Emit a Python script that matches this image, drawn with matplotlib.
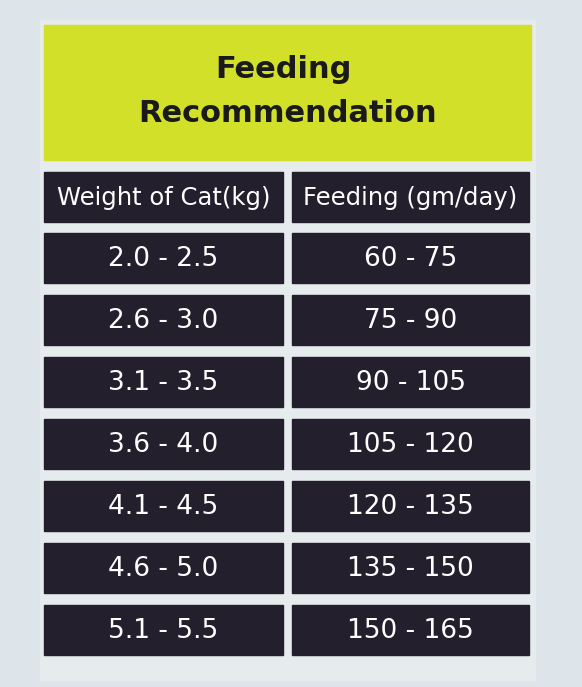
import matplotlib
matplotlib.use("Agg")
import matplotlib.pyplot as plt
from matplotlib.patches import Rectangle

title_lines = ["Feeding", "Recommendation"]
headers = ["Weight of Cat(kg)", "Feeding (gm/day)"]
weights = ["2.0 - 2.5", "2.6 - 3.0", "3.1 - 3.5", "3.6 - 4.0", "4.1 - 4.5", "4.6 - 5.0", "5.1 - 5.5"]
feeding = ["60 - 75", "75 - 90", "90 - 105", "105 - 120", "120 - 135", "135 - 150", "150 - 165"]

W, H = 582, 687
fig = plt.figure(figsize=(W / 100, H / 100), dpi=100)
fig.patch.set_facecolor("#dde5ea")
ax = fig.add_axes([0, 0, 1, 1])
ax.set_xlim(0, W)
ax.set_ylim(H, 0)
ax.axis("off")

dark = "#241f2d"
# panel background
ax.add_patch(Rectangle((40, 20), 495, 660, color="#e6ebee", zorder=0))
# yellow header
ax.add_patch(Rectangle((44, 25), 487, 135, color="#d2e02a"))
ax.text(283, 70, title_lines[0], ha="center", va="center", fontsize=22, fontweight="bold", color="#1a1a1a")
ax.text(288, 113, title_lines[1], ha="center", va="center", fontsize=22, fontweight="bold", color="#1a1a1a")

cols = [(44, 239), (292, 237)]
row_h = 50
step = 62
y0 = 172
rows = [headers] + list(zip(weights, feeding))
for i, row in enumerate(rows):
    y = y0 + i * step - (i > 0) * 1
    for (x, w), label in zip(cols, row):
        ax.add_patch(Rectangle((x, y), w, row_h, color=dark))
        ax.text(x + w / 2, y + row_h / 2 + 1, label, ha="center", va="center",
                fontsize=17.5 if i == 0 else 19, color="white")

fig.savefig("out.png", dpi=100, facecolor=fig.get_facecolor())
